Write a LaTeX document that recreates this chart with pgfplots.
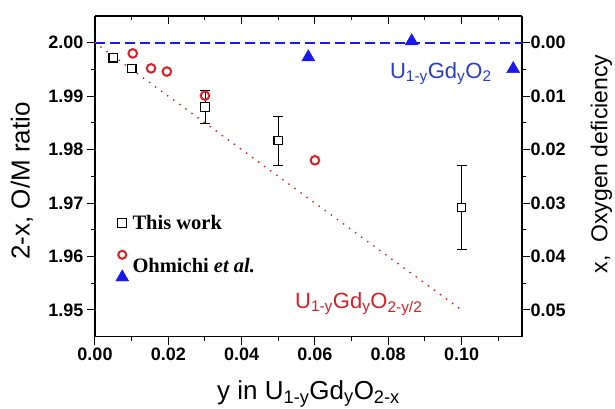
\documentclass[border=0pt]{standalone}
\usepackage{pgfplots}
\pgfplotsset{compat=1.18}
\usepackage{fontspec}
\setmainfont{Liberation Sans}
\newfontfamily\serif{Liberation Serif}
\definecolor{myred}{RGB}{222,30,35}
\definecolor{myblue}{RGB}{25,25,240}
\definecolor{txtblue}{RGB}{40,60,205}
\definecolor{txtred}{RGB}{215,30,40}
\begin{document}
\begin{tikzpicture}
\pgfplotsset{
  common/.style={scale only axis, width=427pt, height=320.7pt,
    xmin=0, xmax=0.1165, ymin=1.945, ymax=2.005,
    scaled ticks=false,
    major tick length=8pt, minor tick length=4pt,
    tick style={black, line width=1pt},
    axis line style={black, line width=1.3pt, -},
    ticklabel style={font=\fontsize{18}{18}\selectfont\bfseries},
    /pgf/number format/assume math mode=true,
  },
}
% top ticks (inside)
\begin{axis}[common, hide y axis, axis x line*=top, tick align=inside,
  xtick={0,0.02,0.04,0.06,0.08,0.10},
  minor xtick={0.01,0.03,0.05,0.07,0.09,0.11}, xticklabels={}]
\end{axis}
% right axis
\begin{axis}[common, ymin=-0.005, ymax=0.055, y dir=reverse,
  hide x axis, axis y line*=right, tick align=outside,
  ytick={0,0.01,0.02,0.03,0.04,0.05},
  yticklabels={0.00,0.01,0.02,0.03,0.04,0.05},
  minor ytick={0.005,0.015,0.025,0.035,0.045},
  yticklabel style={xshift=-3pt},
  ylabel={x,\ \ Oxygen deficiency},
  every axis y label/.style={at={(axis description cs:1.186,0.5385)}, anchor=center, rotate=90,
    font=\fontsize{23}{23}\selectfont}]
\end{axis}
% main axis
\begin{axis}[common, axis x line*=bottom, axis y line*=left, tick align=outside,
  xtick={0,0.02,0.04,0.06,0.08,0.10},
  xticklabels={0.00,0.02,0.04,0.06,0.08,0.10},
  minor xtick={0.01,0.03,0.05,0.07,0.09,0.11},
  ytick={1.95,1.96,1.97,1.98,1.99,2.00},
  yticklabels={1.95,1.96,1.97,1.98,1.99,2.00},
  minor ytick={1.955,1.965,1.975,1.985,1.995},
  xlabel={y in U\textsubscript{1-y}Gd\textsubscript{y}O\textsubscript{2-x}},
  every axis x label/.style={at={(axis description cs:0.5,0)}, anchor=base, yshift=-62.5pt,
    font=\fontsize{26}{26}\selectfont},
  ylabel={2-x, O/M ratio},
  every axis y label/.style={at={(axis description cs:-0.171,0.486)}, anchor=center, rotate=90,
    font=\fontsize{26}{26}\selectfont},
  legend style={draw=none, fill=none, at={(axis description cs:0.0363,0.392)}, anchor=north west,
    font=\serif\bfseries\fontsize{20.5}{20.5}\selectfont, row sep=23.5pt,
    /tikz/every odd column/.append style={column sep=4pt}},
  legend cell align=left,
  clip=false]
% reference lines
\addplot[myblue, line width=1.7pt, dash pattern=on 10pt off 5pt, forget plot]
  coordinates {(0,2.0) (0.1165,2.0)};
\addplot[myred, line width=2pt, dash pattern=on 0pt off 7.5pt, line cap=round, forget plot]
  coordinates {(0,2.0) (0.1,1.95)};
% error bars of this work
\addplot[draw=none, mark=none, forget plot,
  error bars/.cd, y dir=both, y explicit,
  error bar style={draw=black, line width=0.9pt},
  error mark options={rotate=90, mark size=5pt, draw=black, line width=0.9pt}]
  coordinates {(0.030,1.9880) +- (0,0.0031) (0.050,1.9817) +- (0,0.0046) (0.100,1.9692) +- (0,0.0078)};
% this work
\addplot[only marks, mark=square*, mark size=4.3pt,
  mark options={fill=white, draw=black, line width=1.1pt}, forget plot]
  coordinates {(0.005,1.9972) (0.010,1.9952) (0.030,1.9880) (0.050,1.9817) (0.100,1.9692)};
% Ohmichi circles
\addplot[only marks, mark=o, mark size=4.3pt,
  mark options={draw=myred, line width=2pt}, forget plot]
  coordinates {(0.0103,1.9980) (0.0153,1.9952) (0.0196,1.9946) (0.030,1.9901) (0.060,1.9780)};
% Ohmichi triangles
\addplot[only marks, mark=triangle*, mark size=7.5pt,
  mark options={draw=myblue, fill=myblue}, forget plot]
  coordinates {(0.0582,1.9973) (0.0864,2.0003) (0.1141,1.9951)};
% legend
\addlegendimage{only marks, mark=square, mark size=4.3pt, mark options={draw=black, line width=1.1pt}}
\addlegendentry{This work}
\addlegendimage{legend image code/.code={
  \draw[overlay, myred, line width=2pt] plot[mark=o, mark size=4pt] coordinates {(0.3cm,11.5pt)};
  \draw[overlay, myblue, fill=myblue] plot[mark=triangle*, mark size=7.5pt] coordinates {(0.3cm,-11pt)};
}}
\addlegendentry{Ohmichi \textit{et al.}}
% text labels
\node[anchor=base west, inner sep=0pt, text=txtblue, font=\fontsize{22}{22}\selectfont]
  at (axis cs:0.08045,1.99335) {U\textsubscript{1-y}Gd\textsubscript{y}O\textsubscript{2}};
\node[anchor=base west, inner sep=0pt, text=txtred, font=\fontsize{22}{22}\selectfont]
  at (axis cs:0.05455,1.95035) {U\textsubscript{1-y}Gd\textsubscript{y}O\textsubscript{2-y/2}};
\end{axis}
\pgfresetboundingbox
\path (-95pt,-71.3pt) rectangle (520pt,336.7pt);
\end{tikzpicture}
\end{document}
